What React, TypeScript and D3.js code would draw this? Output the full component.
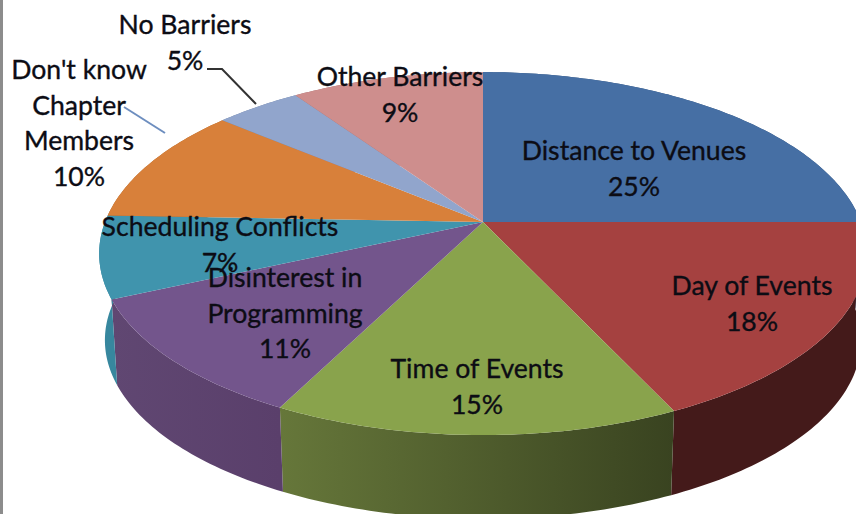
import React from 'react'
import * as d3 from 'd3'

const categories = ['Distance to Venues', 'Day of Events', 'Time of Events', 'Disinterest in Programming', 'Scheduling Conflicts', "Don't know Chapter Members", 'No Barriers', 'Other Barriers']
// estimated from the slice edges, the printed labels are rounded
const shares = [25, 18, 14.5, 10.8, 7.3, 10.5, 4.3, 9.6]
const topColors = ['#466fa4', '#a54140', '#89a34c', '#73558c', '#4094ad', '#d8803a', '#91a5cc', '#ce8e8d']
const wallFrom = ['#34537b', '#441a1a', '#66773a', '#604772', '#37879e', '#a8642d', '#6f80a0', '#a06e6e']
const wallTo = ['#34537b', '#441a1a', '#394320', '#5a3f6b', '#37879e', '#a8642d', '#6f80a0', '#a06e6e']

const width = 856
const height = 514
const cx = 483
const cyTop = 222
const cyBottom = 309
const rx = 378
const ry = 176
const tilt = 0.174
const bottomScale = 0.985

// text blocks, one per slice, in the same order as categories
const labelLines = [
  ['Distance to Venues', '25%'],
  ['Day of Events', '18%'],
  ['Time of Events', '15%'],
  ['Disinterest in', 'Programming', '11%'],
  ['Scheduling Conflicts', '7%'],
  ["Don't know", 'Chapter', 'Members', '10%'],
  ['No Barriers', '5%'],
  ['Other Barriers', '9%'],
]
const labelPos = [
  [634, 160], [752, 295], [477, 378], [285, 287], [220, 236], [79, 79], [185, 34], [400, 86],
]
const lineGap = 35.5

// circle to screen, near side gets bigger
const project = (a: number, cy: number, s: number): [number, number] => {
  const u = Math.sin(a)
  const v = Math.cos(a)
  const d = 1 + tilt * v
  return [cx + (rx * s * u) / d, cy - (ry * s * v) / d]
}

const rim = (a0: number, a1: number, cy: number, s: number) => {
  const n = Math.max(2, Math.ceil((a1 - a0) * 60))
  return d3.range(n + 1).map((i) => project(a0 + ((a1 - a0) * i) / n, cy, s))
}

const App = () => {
  const arcs = d3.pie<number>().sort(null)(shares)
  const line = d3.line()

  return (
    <svg width={width} height={height} style={{ position: 'absolute', left: 0, top: 0, background: '#fff' }} fontFamily="Lato, sans-serif" fontSize={26.6}>
      <defs>
        {arcs.map((d, i) => {
          const xs = [project(d.startAngle, cyTop, 1)[0], project(d.endAngle, cyTop, 1)[0]]
          return (
            <linearGradient key={i} id={`wall${i}`} gradientUnits="userSpaceOnUse" x1={d3.min(xs)} x2={d3.max(xs)} y1={0} y2={0}>
              <stop offset="0%" stopColor={wallFrom[i]} />
              <stop offset="100%" stopColor={wallTo[i]} />
            </linearGradient>
          )
        })}
      </defs>
      <rect x={0} y={0} width={3} height={height} fill="#8c8c8c" />
      {arcs.map((d, i) => (
        <path
          key={categories[i]}
          d={(line([...rim(d.startAngle, d.endAngle, cyTop, 1), ...rim(d.startAngle, d.endAngle, cyBottom, bottomScale).reverse()]) ?? '') + 'Z'}
          fill={`url(#wall${i})`}
        />
      ))}
      {arcs.map((d, i) => (
        <path
          key={categories[i]}
          d={(line([[cx, cyTop], ...rim(d.startAngle, d.endAngle, cyTop, 1)]) ?? '') + 'Z'}
          fill={topColors[i]}
        />
      ))}
      <polyline points="207,69 222,69 256,104" fill="none" stroke="#333" strokeWidth={2} />
      <polyline points="124,107 165,133" fill="none" stroke="#6d8ebf" strokeWidth={2} />
      {labelLines.map((lines, i) => (
        <text key={i} textAnchor="middle" fill="#0c0c14" stroke="#0c0c14" strokeWidth={0.35}>
          {lines.map((t, j) => (
            <tspan key={j} x={labelPos[i][0]} y={labelPos[i][1] + j * lineGap}>{t}</tspan>
          ))}
        </text>
      ))}
    </svg>
  )
}

export default App
